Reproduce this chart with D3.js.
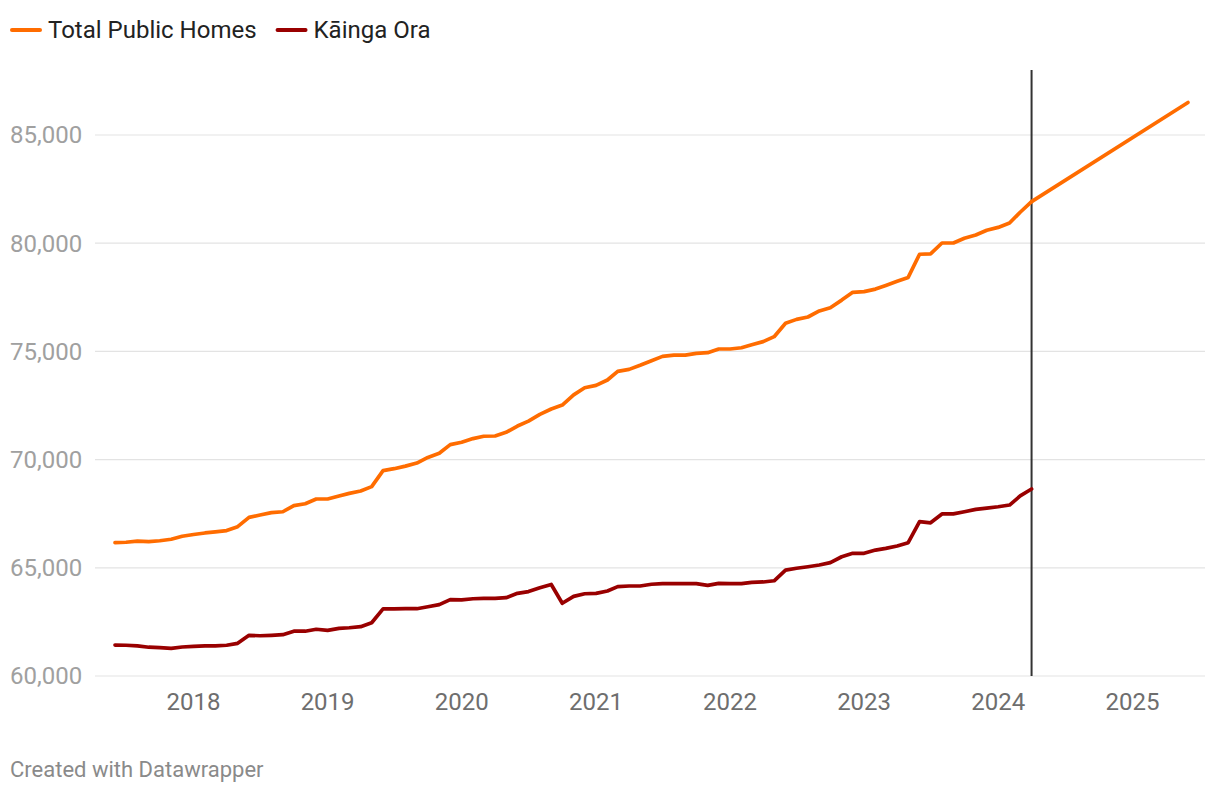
<!DOCTYPE html>
<html>
<head>
<meta charset="utf-8">
<script src="https://cdn.jsdelivr.net/npm/d3@7"></script>
<style>
  html, body { margin: 0; padding: 0; background: #fff; }
  svg { display: block; font-family: Roboto, "Noto Sans", sans-serif; }
</style>
</head>
<body>
<svg id="chart" width="1220" height="792"></svg>
<script>
// ---- Data ----
const startMonth = "2017-06"; // first observation (monthly)
const totalPublicHomes = [
  66160, 66180, 66230, 66210, 66250, 66320, 66460, 66540, 66610, 66660,
  66720, 66900, 67330, 67440, 67550, 67590, 67870, 67960, 68180, 68180,
  68320, 68440, 68550, 68750, 69490, 69580, 69700, 69840, 70100, 70290,
  70690, 70800, 70970, 71080, 71090, 71260, 71550, 71780, 72090, 72340,
  72520, 72990, 73320, 73430, 73680, 74080, 74170, 74360, 74570, 74770,
  74830, 74830, 74910, 74940, 75110, 75110, 75170, 75310, 75450, 75680,
  76300, 76480, 76590, 76870, 77020, 77370, 77730, 77760, 77880, 78050,
  78240, 78420, 79490, 79510, 80010, 80010, 80230, 80380, 80600, 80730,
  80930, 81430, 81920
];
const kaingaOra = [
  61430, 61420, 61390, 61330, 61310, 61280, 61340, 61370, 61390, 61390,
  61420, 61510, 61880, 61860, 61880, 61910, 62070, 62070, 62160, 62110,
  62200, 62230, 62280, 62460, 63100, 63100, 63110, 63110, 63200, 63300,
  63530, 63520, 63570, 63590, 63590, 63620, 63820, 63900, 64080, 64230,
  63360, 63680, 63800, 63820, 63930, 64130, 64160, 64160, 64240, 64265,
  64265, 64265, 64265, 64190, 64280, 64265, 64265, 64330, 64345, 64400,
  64890, 64980, 65050, 65130, 65240, 65510, 65670, 65670, 65820, 65900,
  66010, 66160, 67130, 67080, 67490, 67490, 67590, 67700, 67760, 67820,
  67900, 68320, 68640
];
const forecastDates = ["2024-04", "2025-06"];
const forecastValues = [81920, 86500];
const markerDate = "2024-04";
const yTicks = [60000, 65000, 70000, 75000, 80000, 85000];
const xTickYears = [2018, 2019, 2020, 2021, 2022, 2023, 2024, 2025];
const seriesNames = ["Total Public Homes", "Kāinga Ora"];
const seriesColors = ["#ff6c00", "#990000"];
const footerText = "Created with Datawrapper";

// ---- Build ----
const parseMonth = d3.timeParse("%Y-%m");
const start = parseMonth(startMonth);
const monthDate = i => d3.timeMonth.offset(start, i);
const totalData = totalPublicHomes.map((v, i) => ({ date: monthDate(i), value: v }));
const totalForecast = forecastDates.map((d, i) => ({ date: parseMonth(d), value: forecastValues[i] }));
const koData = kaingaOra.map((v, i) => ({ date: monthDate(i), value: v }));

const svg = d3.select("#chart");
const gridLeft = 95, gridRight = 1205;

const x = d3.scaleTime()
  .domain([start, parseMonth(forecastDates[1])])
  .range([115, 1188]);
const y = d3.scaleLinear()
  .domain([60000, 85000])
  .range([676, 135]);

// gridlines
svg.append("g").selectAll("line").data(yTicks).join("line")
  .attr("x1", gridLeft).attr("x2", gridRight)
  .attr("y1", d => y(d)).attr("y2", d => y(d))
  .attr("stroke", "#e3e3e3").attr("stroke-width", 1.2);

// y labels
svg.append("g").selectAll("text").data(yTicks).join("text")
  .attr("x", 10).attr("y", d => y(d))
  .attr("dy", "0.35em")
  .attr("fill", "#a0a0a0")
  .attr("font-size", 24)
  .text(d => d3.format(",")(d));

// x labels
svg.append("g").selectAll("text").data(xTickYears).join("text")
  .attr("x", d => x(new Date(d, 0, 1)))
  .attr("y", 710)
  .attr("text-anchor", "middle")
  .attr("fill", "#6e6e6e")
  .attr("font-size", 24)
  .text(d => d);

// marker line
svg.append("line")
  .attr("x1", x(parseMonth(markerDate))).attr("x2", x(parseMonth(markerDate)))
  .attr("y1", 70).attr("y2", y(60000))
  .attr("stroke", "#333").attr("stroke-width", 2);

const line = d3.line().x(d => x(d.date)).y(d => y(d.value));

svg.append("path").datum(totalForecast)
  .attr("d", line).attr("fill", "none")
  .attr("stroke", seriesColors[0]).attr("stroke-width", 3.7)
  .attr("stroke-linecap", "round").attr("stroke-linejoin", "round");
svg.append("path").datum(totalData)
  .attr("d", line).attr("fill", "none")
  .attr("stroke", seriesColors[0]).attr("stroke-width", 3.7)
  .attr("stroke-linecap", "round").attr("stroke-linejoin", "round");
svg.append("path").datum(koData)
  .attr("d", line).attr("fill", "none")
  .attr("stroke", seriesColors[1]).attr("stroke-width", 3.7)
  .attr("stroke-linecap", "round").attr("stroke-linejoin", "round");

// legend
const legend = svg.append("g");
let lx = 12;
seriesNames.forEach((name, i) => {
  legend.append("line")
    .attr("x1", lx).attr("x2", lx + 28).attr("y1", 30).attr("y2", 30)
    .attr("stroke", seriesColors[i]).attr("stroke-width", 4).attr("stroke-linecap", "round");
  const t = legend.append("text")
    .attr("x", lx + 36).attr("y", 30).attr("dy", "0.35em")
    .attr("fill", "#222").attr("font-size", 24)
    .text(name);
  lx += 36 + t.node().getComputedTextLength() + 21;
});

// footer
svg.append("text")
  .attr("x", 10).attr("y", 777)
  .attr("fill", "#8a8a8a").attr("font-size", 22)
  .text(footerText);
</script>
</body>
</html>
